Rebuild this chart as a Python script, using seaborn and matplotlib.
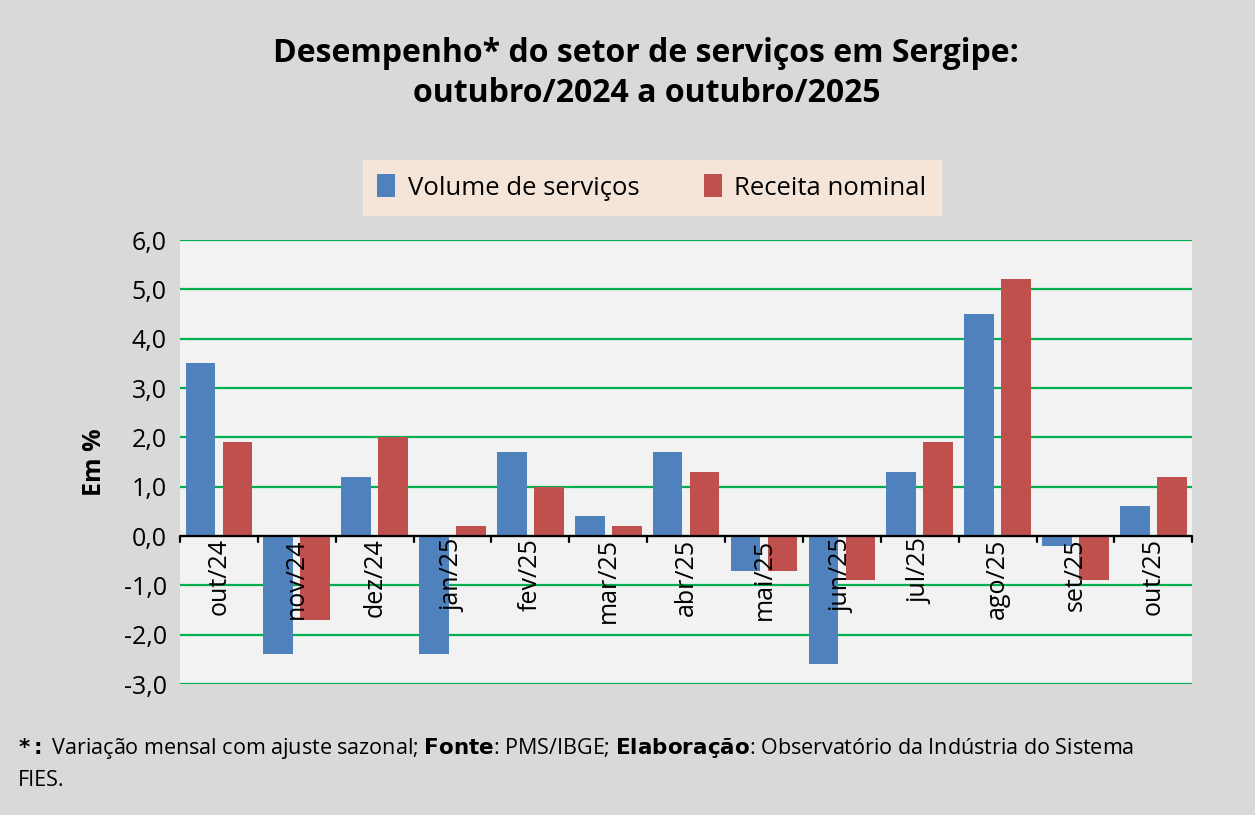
import matplotlib
matplotlib.use("Agg")
import matplotlib.pyplot as plt
import seaborn as sns
import pandas as pd

meses = ["out/24","nov/24","dez/24","jan/25","fev/25","mar/25","abr/25","mai/25","jun/25","jul/25","ago/25","set/25","out/25"]
volume = [3.5,-2.4,1.2,-2.4,1.7,0.4,1.7,-0.7,-2.6,1.3,4.5,-0.2,0.6]
receita = [1.9,-1.7,2.0,0.2,1.0,0.2,1.3,-0.7,-0.9,1.9,5.2,-0.9,1.2]
series = ["Volume de serviços","Receita nominal"]
yticks = [-3,-2,-1,0,1,2,3,4,5,6]

df = pd.DataFrame({"mes": meses*2, "valor": volume+receita,
                   "serie": [series[0]]*len(meses)+[series[1]]*len(meses)})

sns.set_theme(style="white")
plt.rcParams['font.family'] = ['Open Sans', 'DejaVu Sans']
plt.rcParams['text.color'] = 'black'
plt.rcParams['ytick.color'] = 'black'
plt.rcParams['axes.labelcolor'] = 'black'
fig = plt.figure(figsize=(12.55, 8.15), dpi=100, facecolor="#d9d9d9")
ax = fig.add_axes([0.1434, 0.1607, 0.8066, 0.5448])
ax.set_facecolor("#f2f2f2")
sns.barplot(data=df, x="mes", y="valor", hue="serie", palette=["#4f81bd","#c0504d"],
            ax=ax, width=0.95, gap=0.2, saturation=1, linewidth=0, legend=True)
ax.set_ylim(-3, 6)
ax.set_xlim(-0.5, len(meses)-0.5)
ax.set_yticks(yticks)
ax.set_yticklabels([f"{v:.1f}".replace(".", ",") for v in yticks], fontsize=18)
ax.grid(axis="y", color="#00b050", lw=1.6)
ax.set_axisbelow(True)
for s in ax.spines.values():
    s.set_visible(False)
ax.axhline(0, color="black", lw=1.6)
ax.set_xticks(range(len(meses)))
ax.set_xticklabels([])
ax.tick_params(axis="x", length=0)
for i in range(len(meses)+1):
    ax.plot([i-0.5, i-0.5], [0, -0.12], color="black", lw=1.6, clip_on=False)
for i, m in enumerate(meses):
    ax.text(i, -0.05, m, rotation=90, ha="center", va="top", fontsize=18)
ax.set_xlabel("")
ax.set_ylabel("Em %", fontsize=18, fontweight="bold", labelpad=12)
leg = ax.legend(loc="center", bbox_to_anchor=(0.466, 1.118), ncol=2, fontsize=18.5,
                frameon=True, fancybox=False, handlelength=0.7, handleheight=1.0,
                handletextpad=0.5, columnspacing=2.5, borderpad=0.55, title=None)
leg.get_frame().set_facecolor("#fde9d9")
leg.get_frame().set_edgecolor("#fde9d9")
fig.text(0.515, 0.955, "Desempenho* do setor de serviços em Sergipe:\noutubro/2024 a outubro/2025",
         ha="center", va="top", fontsize=23, fontweight="bold", linespacing=1.3)
fig.text(0.014, 0.082, r"$\bf{*:}$ Variação mensal com ajuste sazonal; $\bf{Fonte}$: PMS/IBGE; $\bf{Elaboração}$: Observatório da Indústria do Sistema",
         fontsize=15.5, va="center")
fig.text(0.014, 0.042, "FIES.", fontsize=15.5, va="center")
fig.savefig("out.png", dpi=100, facecolor=fig.get_facecolor())
